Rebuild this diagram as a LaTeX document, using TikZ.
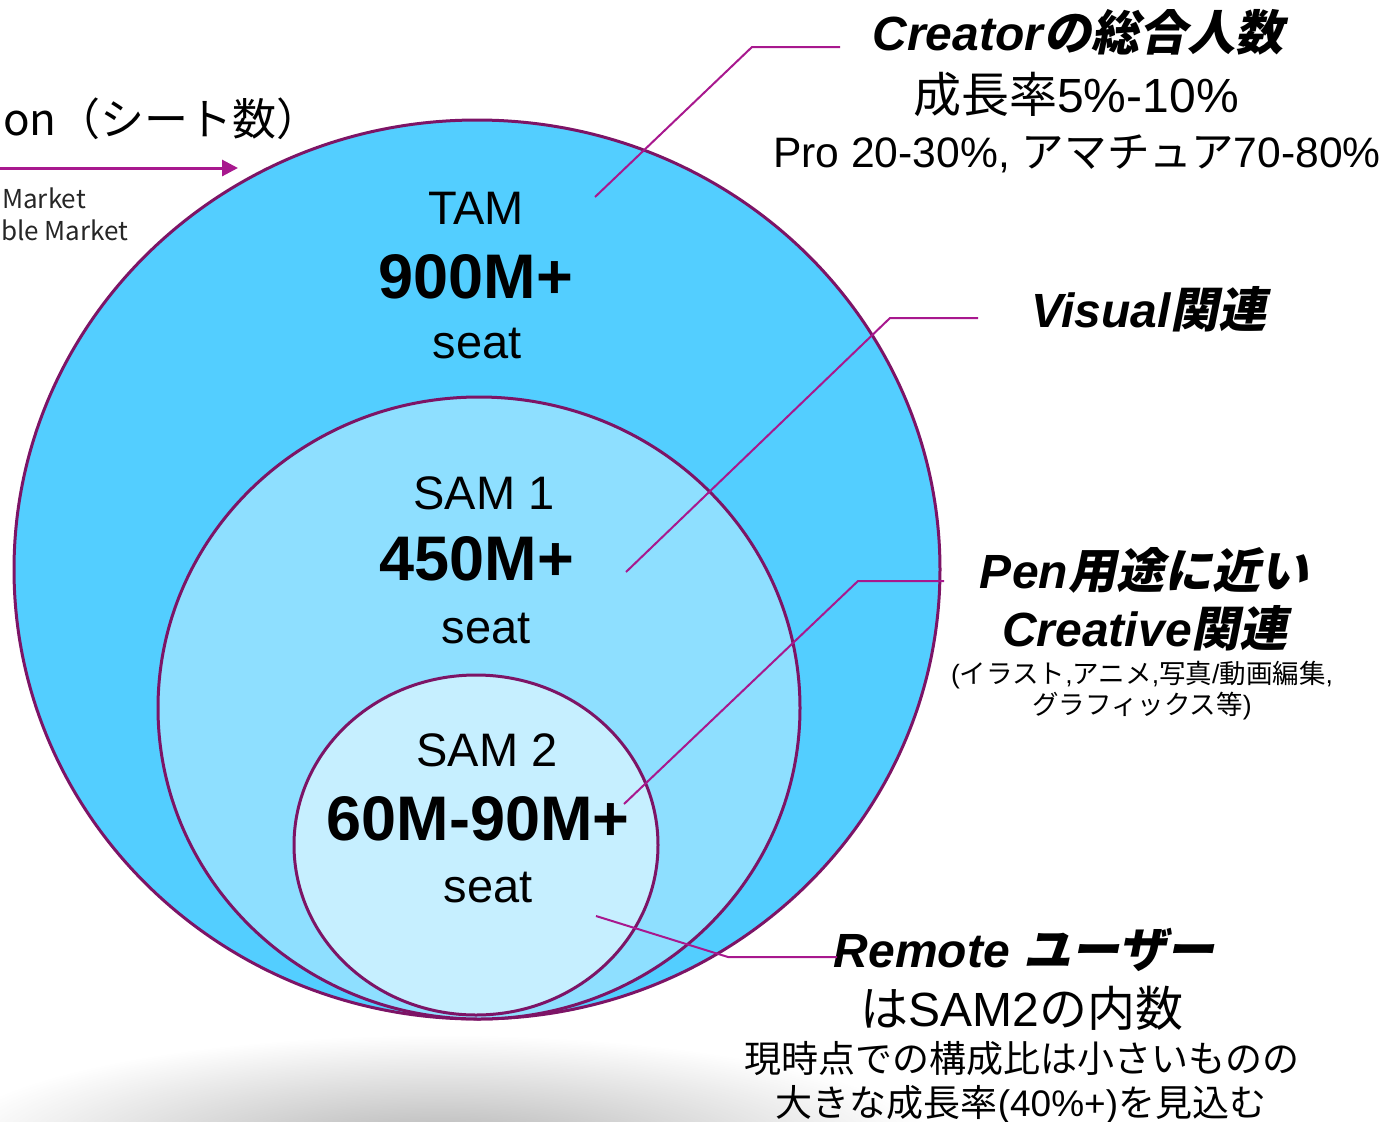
\documentclass[tikz,border=0pt]{standalone}
\usepackage{fontspec}
\setmainfont{Liberation Sans}
\newfontfamily\jp{Noto Sans CJK JP}
\newfontfamily\jpsl[FakeSlant=0.2]{Noto Sans CJK JP}
\usetikzlibrary{arrows.meta,fadings}
\tikzfading[name=softblob, inner color=transparent!0, outer color=transparent!100]
\definecolor{tamc}{HTML}{53CEFF}
\definecolor{samonec}{HTML}{8EDFFF}
\definecolor{samtwoc}{HTML}{C6EFFF}
\definecolor{ringc}{HTML}{7D1466}
\definecolor{leadc}{HTML}{A8188E}
\newcommand\J[1]{{\jp #1}}
\newcommand\JB[1]{{\jpsl\bfseries #1}}
\tikzset{
  ring/.style={draw=ringc, line width=3pt},
  leader/.style={draw=leadc, line width=2pt},
  lbl/.style={anchor=base, inner sep=0pt, font=\fontsize{47}{50}\selectfont},
  big/.style={anchor=base, inner sep=0pt, font=\fontsize{63}{66}\selectfont\bfseries},
  note/.style={anchor=base, inner sep=0pt},
  head/.style={note, font=\fontsize{48}{52}\selectfont\bfseries\itshape},
}
\begin{document}
\begin{tikzpicture}[x=1pt,y=-1pt]
\useasboundingbox (0,0) rectangle (1390,1122);
% shadow
\fill[black!30, path fading=softblob] (440,1150) ellipse (500 and 115);
% circles
\path[ring, fill=tamc] (477,569.5) ellipse (463 and 449.5);
\path[ring, fill=samonec] (479,708) ellipse (321 and 311);
\path[ring, fill=samtwoc] (476,845) ellipse (182 and 170);
% top-left partial legend
\node[note, anchor=base west, font=\jp\fontsize{44}{48}\selectfont] (ttl) at (3,135) {on（シート数）};
\coordinate (arrs) at (0,168);
\coordinate (arre) at (238,168);
\draw[draw=leadc, line width=3pt, -{Triangle[length=16pt,width=16pt]}] (arrs) -- (arre);
\node[note, anchor=base west, text=black!85, font=\jp\fontsize{26}{30}\selectfont] (mk1) at (2,208) {Market};
\node[note, anchor=base west, text=black!85, font=\jp\fontsize{26}{30}\selectfont] (mk2) at (1,240) {ble Market};
% circle labels
\node[lbl] (tam) at (476,224) {TAM};
\node[big] (tamv) at (476,298) {900M+};
\node[lbl] (tams) at (477,358) {seat};
\node[lbl] (s1) at (484,509) {SAM 1};
\node[big] (s1v) at (477,580) {450M+};
\node[lbl] (s1s) at (486,643) {seat};
\node[lbl] (s2) at (487,766) {SAM 2};
\node[big] (s2v) at (478,840) {60M-90M+};
\node[lbl] (s2s) at (488,902) {seat};
% right texts
\node[head] (cr1) at (1078,50) {Creator\JB{の総合人数}};
\node[note, font=\fontsize{48}{52}\selectfont] (cr2) at (1076,112) {\J{成長率}5\%-10\%};
\node[note, font=\fontsize{42.6}{46}\selectfont] (cr3) at (1077,167) {Pro 20-30\%, \J{アマチュア}70-80\%};
\node[head] (vi) at (1149,327) {Visual\JB{関連}};
\node[head] (pn1) at (1144,588) {Pen\JB{用途に近い}};
\node[head] (pn2) at (1145,646) {Creative\JB{関連}};
\node[note, font=\fontsize{26.5}{30}\selectfont] (pn3) at (1142,683) {(\J{イラスト},\J{アニメ},\J{写真}/\J{動画編集},};
\node[note, font=\fontsize{26.5}{30}\selectfont] (pn4) at (1142,714) {\J{グラフィックス等})};
\node[head] (rm1) at (1024,967) {Remote \JB{ユーザー}};
\node[note, font=\fontsize{48}{52}\selectfont] (rm2) at (1022,1026) {\J{は}SAM2\J{の内数}};
\node[note, font=\fontsize{37}{40}\selectfont] (rm3) at (1022,1072) {\J{現時点での構成比は小さいものの}};
\node[note, font=\fontsize{37}{40}\selectfont] (rm4) at (1021,1116) {\J{大きな成長率}(40\%+)\J{を見込む}};
% leaders
\coordinate (l1s) at (595,197); \coordinate (l1b) at (752,47); \coordinate (l1e) at (840,47);
\coordinate (l2s) at (626,572); \coordinate (l2b) at (890,318); \coordinate (l2e) at (978,318);
\coordinate (l3s) at (624,804); \coordinate (l3b) at (858,581); \coordinate (l3e) at (944,581);
\coordinate (l4s) at (596,916); \coordinate (l4b) at (728,957); \coordinate (l4e) at (837,957);
\draw[leader] (l1s) -- (l1b) -- (l1e);
\draw[leader] (l2s) -- (l2b) -- (l2e);
\draw[leader] (l3s) -- (l3b) -- (l3e);
\draw[leader] (l4s) -- (l4b) -- (l4e);
\end{tikzpicture}
\end{document}
